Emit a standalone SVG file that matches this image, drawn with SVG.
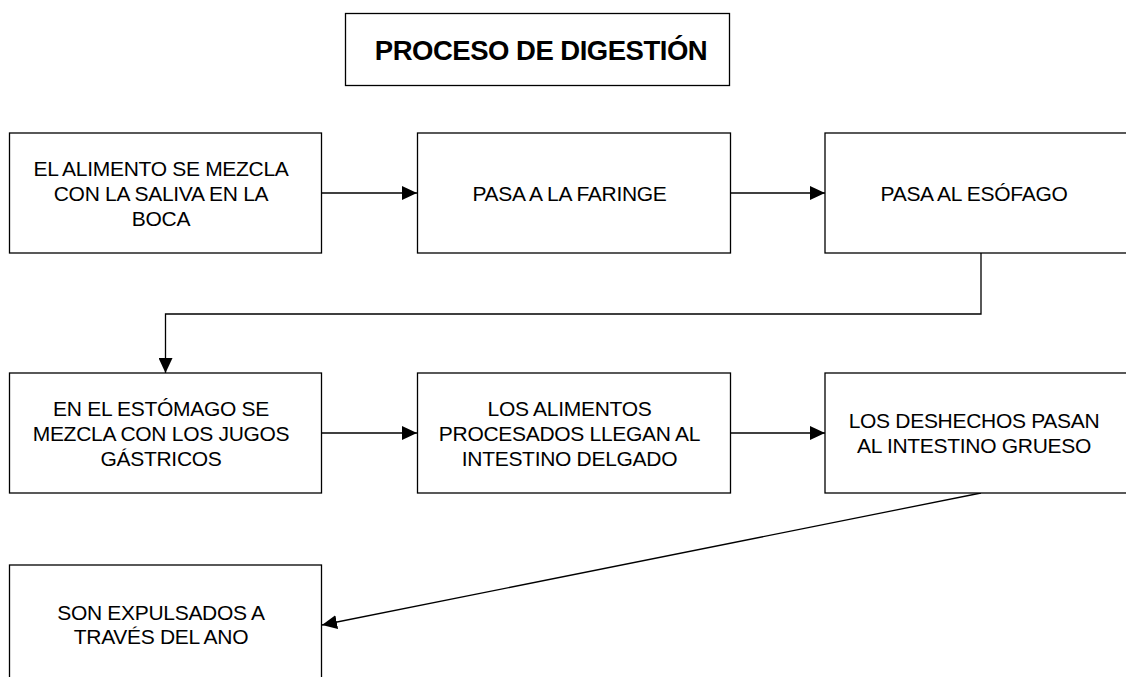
<svg xmlns="http://www.w3.org/2000/svg" width="1126" height="677" viewBox="0 0 1126 677">
<defs>
<style>
.box{fill:#fff;stroke:#000;stroke-width:1.3}
.t{font-family:"Liberation Sans",Arial,sans-serif;font-size:21px;letter-spacing:-0.3px;fill:#000;text-anchor:middle}
.title{font-family:"Liberation Sans",Arial,sans-serif;font-size:27.5px;font-weight:bold;letter-spacing:-0.5px;fill:#000;text-anchor:middle}
.c{fill:none;stroke:#000;stroke-width:1.3}
</style>
<marker id="arr" markerUnits="userSpaceOnUse" markerWidth="16" markerHeight="14" refX="15" refY="7" orient="auto">
<path d="M0,0 L15,7 L0,14 Z" fill="#000"/>
</marker>
</defs>
<rect width="1126" height="677" fill="#fff"/>
<g id="title">
<rect class="box" x="345.5" y="13.5" width="384" height="72"/>
<text class="title" x="541" y="60">PROCESO DE DIGESTIÓN</text>
</g>
<g id="connectors">
<path class="c" d="M322,193 H417" marker-end="url(#arr)"/>
<path class="c" d="M731,193 H825" marker-end="url(#arr)"/>
<path class="c" d="M981,253 V314 H165.5 V373" marker-end="url(#arr)"/>
<path class="c" d="M322,433 H417" marker-end="url(#arr)"/>
<path class="c" d="M731,433 H825" marker-end="url(#arr)"/>
<path class="c" d="M981,493 L322,625" marker-end="url(#arr)"/>
</g>
<g id="n1">
<rect class="box" x="9.5" y="133" width="312" height="120"/>
<text class="t" x="161" y="176">EL ALIMENTO SE MEZCLA</text>
<text class="t" x="161" y="201">CON LA SALIVA EN LA</text>
<text class="t" x="161" y="226">BOCA</text>
</g>
<g id="n2">
<rect class="box" x="417.5" y="133" width="313" height="120"/>
<text class="t" x="569.5" y="201">PASA A LA FARINGE</text>
</g>
<g id="n3">
<rect class="box" x="825" y="133" width="313" height="120"/>
<text class="t" x="974" y="201">PASA AL ESÓFAGO</text>
</g>
<g id="n4">
<rect class="box" x="9.5" y="373" width="312" height="120"/>
<text class="t" x="161" y="415.5">EN EL ESTÓMAGO SE</text>
<text class="t" x="161" y="440.5">MEZCLA CON LOS JUGOS</text>
<text class="t" x="161" y="465.5">GÁSTRICOS</text>
</g>
<g id="n5">
<rect class="box" x="417.5" y="373" width="313" height="120"/>
<text class="t" x="569.5" y="415.5">LOS ALIMENTOS</text>
<text class="t" x="569.5" y="440.5">PROCESADOS LLEGAN AL</text>
<text class="t" x="569.5" y="465.5">INTESTINO DELGADO</text>
</g>
<g id="n6">
<rect class="box" x="825" y="373" width="313" height="120"/>
<text class="t" x="974" y="428">LOS DESHECHOS PASAN</text>
<text class="t" x="974" y="453">AL INTESTINO GRUESO</text>
</g>
<g id="n7">
<rect class="box" x="9.5" y="565" width="312" height="120"/>
<text class="t" x="161" y="619.5">SON EXPULSADOS A</text>
<text class="t" x="161" y="644">TRAVÉS DEL ANO</text>
</g>
</svg>
